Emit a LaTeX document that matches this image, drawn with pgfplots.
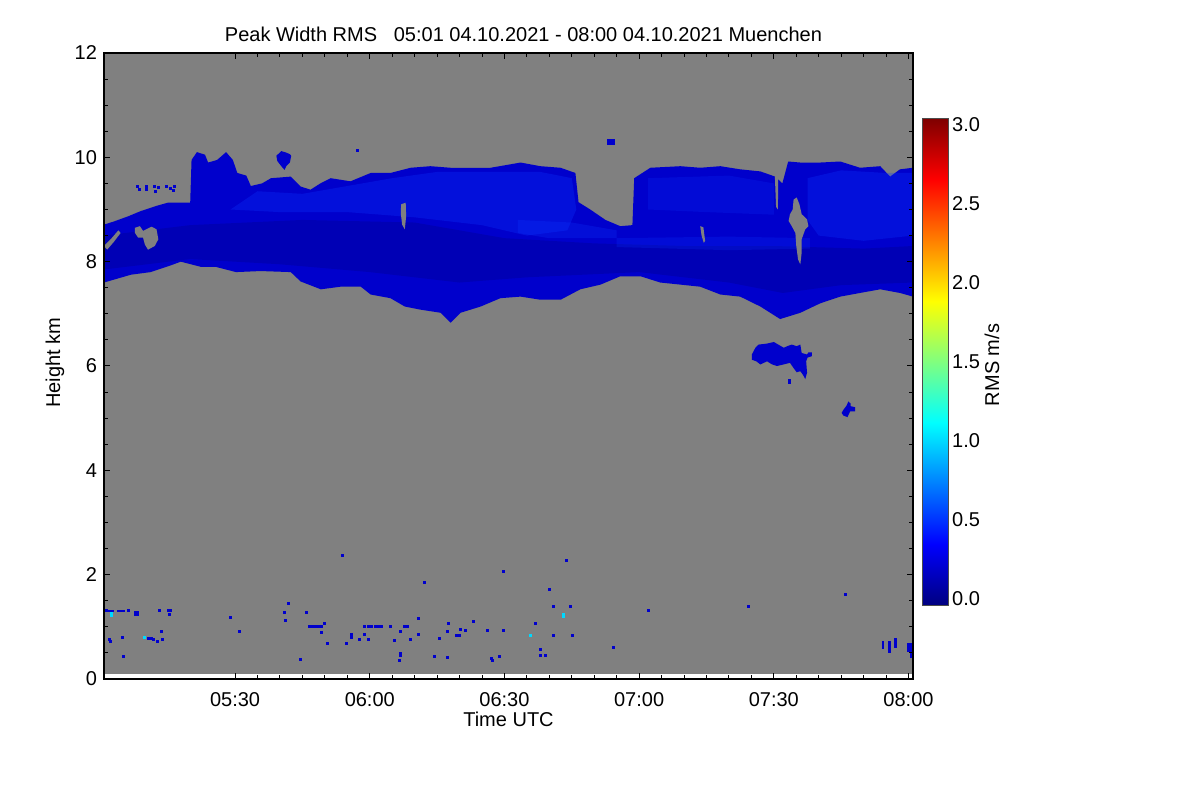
\documentclass[border=0pt]{standalone}
\usepackage{fontspec}
\setmainfont{Liberation Sans}
\usepackage{pgfplots}
\pgfplotsset{compat=1.18}
\usepgfplotslibrary{fillbetween}
\tikzset{fill between/on layer=main}
\definecolor{bg}{rgb}{0.5,0.5,0.5}
\definecolor{cbase}{rgb}{0,0,0.8}
\definecolor{ccore}{rgb}{0,0,0.71}
\definecolor{cbright}{rgb}{0.05,0.22,1}
\definecolor{cdot}{rgb}{0,0,0.8}
\definecolor{ccyan}{rgb}{0,0.85,1}
\begin{document}
\fontsize{10bp}{12bp}\selectfont
\begin{tikzpicture}
\path (0,0) rectangle (600bp,400bp);
\begin{axis}[
 at={(52bp,60.5bp)}, anchor=south west,
 scale only axis, width=404.5bp, height=313bp,
 xmin=300.8, xmax=481, ymin=0, ymax=12,
 xtick={330,360,390,420,450,480},
 xticklabels={05:30,06:00,06:30,07:00,07:30,08:00},
 minor x tick num=5,
 ytick={0,2,4,6,8,10,12}, minor y tick num=3,
 tick align=inside,
 major tick length=3bp, minor tick length=1.8bp,
 axis on top,
 axis line style={line width=0.6bp},
 every tick/.style={line width=0.5bp, black},
 /pgf/number format/assume math mode=true,
 title={Peak Width RMS\ \ \ 05:01 04.10.2021 - 08:00 04.10.2021 Muenchen},
 title style={at={(0.5185,1.0)}, anchor=base, inner sep=0pt},
 xlabel={Time UTC}, xlabel style={at={(0.5,-0.0751)}, anchor=base, inner sep=0pt},
 ylabel={Height km}, ylabel style={at={(-0.0606,0.505)}, anchor=center, inner sep=0pt},
 xticklabel style={yshift=-3.2bp},
 colorbar, colormap/jet, point meta min=-0.038, point meta max=3.038,
 colorbar style={
   at={(1.012,0.1182)}, anchor=south west,
   scale only axis, width=12.8bp, height=243bp,
   ytick={0,0.5,1,1.5,2,2.5,3},
   yticklabel style={/pgf/number format/.cd, fixed, fixed zerofill, precision=1, assume math mode=true, /tikz/.cd, xshift=-1.6bp},
   major tick length=0pt, minor tick length=0pt,
   ylabel={RMS m/s},
   ylabel style={at={(2.707,0.494)}, anchor=center, inner sep=0pt},
   axis line style={line width=0.5bp, black!70},
 },
]
% grey background (no data)
\addplot[fill=bg, draw=none] coordinates {(300.8,0.1) (481,0.1) (481,12) (300.8,12)} --cycle;

% main cloud band
\addplot[name path=lo, draw=none] coordinates {
(300.8,7.6) (306.8,7.75) (311.2,7.8) (315.7,7.93) (317.9,8.0) (322.4,7.9) (325.7,7.9) (330.2,7.8)
(335.7,7.82) (342.4,7.8) (344.6,7.62) (349.1,7.47) (353.5,7.52) (358.0,7.52) (360.2,7.37) (364.6,7.3)
(367.8,7.14) (371.3,7.08) (375.8,7.02) (378.0,6.83) (380.2,7.02) (384.7,7.14) (389.1,7.3) (393.6,7.33)
(398.0,7.27) (402.5,7.27) (406.9,7.47) (411.4,7.56) (415.8,7.72) (420.3,7.72) (424.7,7.6) (429.2,7.56)
(433.6,7.52) (438.1,7.37) (442.5,7.33) (447.0,7.14) (451.4,6.9) (455.9,7.02) (460.3,7.2) (464.8,7.33)
(469.2,7.4) (473.7,7.47) (478.1,7.4) (481,7.33)};
\addplot[name path=up, draw=none] coordinates {
(300.8,8.71) (303.0,8.77) (306.2,8.87) (309.0,8.97) (312.5,9.07) (315.0,9.13) (320.0,9.13) (320.3,9.95)
(321.5,10.1) (323.3,10.05) (324,9.9) (326,9.95) (328,10.1) (329.5,9.95) (330.5,9.7) (332.5,9.65)
(333.5,9.45) (336,9.5) (338,9.6) (342.4,9.63) (344.6,9.44) (346.8,9.38) (349,9.5) (351.3,9.6)
(355.7,9.54) (360.2,9.7) (364.6,9.7) (369.1,9.8) (373.5,9.83) (378,9.8) (382.4,9.8) (386.9,9.8)
(393.6,9.9) (398,9.83) (402.5,9.8) (405.8,9.7) (406.5,9.14) (409.1,9.0) (412.5,8.8) (415.8,8.68)
(418.5,8.7) (418.9,9.6) (422.5,9.8) (429.2,9.83) (433.6,9.8) (438.1,9.83) (442.5,9.77) (447,9.73)
(450.3,9.63) (451.9,9.5) (453.2,9.92) (455.9,9.9) (460.3,9.9) (464.8,9.92) (469.2,9.8) (473.7,9.83)
(475.9,9.63) (478.1,9.77) (481,9.8)};
\addplot[fill=cbase, draw=none] fill between[of=lo and up];

% darker core
\addplot[name path=clo, draw=none] coordinates {
(300.8,7.85) (320,8.05) (340,7.95) (360,7.8) (380,7.6) (395,7.7) (420,7.8) (440,7.6) (452,7.4) (465,7.55) (481,7.6)};
\addplot[name path=cup, draw=none] coordinates {
(300.8,8.5) (320,8.7) (345,8.8) (370,8.75) (390,8.45) (410,8.35) (430,8.3) (450,8.3) (470,8.25) (481,8.3)};
\addplot[fill=ccore, draw=none] fill between[of=clo and cup];

% brighter regions
\addplot[fill=cbright, fill opacity=0.3, draw=none] coordinates {
(329,9.0) (335,9.35) (345,9.3) (355,9.45) (365,9.6) (375,9.72) (390,9.72) (398,9.72) (405,9.6)
(406,9.0) (404,8.6) (395,8.5) (385,8.7) (370,8.85) (355,8.95) (340,8.95)} --cycle;
\addplot[fill=cbright, fill opacity=0.3, draw=none] coordinates {
(457.5,9.6) (465,9.75) (475,9.7) (481,9.7) (481,8.5) (470,8.4) (460,8.5) (457.5,8.8)} --cycle;
\addplot[fill=cbright, fill opacity=0.2, draw=none] coordinates {
(422,9.6) (440,9.65) (450,9.5) (450,8.9) (435,8.95) (422,9.0)} --cycle;
\addplot[fill=cbright, fill opacity=0.25, draw=none] coordinates {
(393,8.8) (405,8.75) (415,8.6) (415,8.45) (400,8.45) (393,8.55)} --cycle;
\addplot[fill=cbright, fill opacity=0.22, draw=none] coordinates {
(415,8.45) (440,8.48) (458,8.45) (458,8.25) (440,8.22) (415,8.28)} --cycle;

% gaps in the cloud
\addplot[fill=bg, draw=none] coordinates {
(300.8,8.3) (302.5,8.45) (304,8.6) (304.5,8.55) (303,8.38) (301.5,8.23)} --cycle;
\addplot[fill=bg, draw=none] coordinates {
(307.7,8.65) (308.8,8.68) (309.5,8.59) (311.4,8.67) (312.5,8.62) (312.9,8.43) (312.1,8.30)
(310.6,8.23) (309.9,8.33) (309.5,8.46) (308.4,8.46) (307.7,8.55)} --cycle;
\addplot[fill=bg, draw=none] coordinates {
(367.0,9.10) (368.0,9.13) (368.1,8.87) (367.8,8.62) (367.2,8.71) (366.9,8.94)} --cycle;
\addplot[fill=bg, draw=none] coordinates {
(433.6,8.68) (434.3,8.66) (434.7,8.4) (434.4,8.36) (433.9,8.5)} --cycle;
\addplot[fill=bg, draw=none] coordinates {
(454.4,9.19) (455.1,9.23) (455.7,9.10) (456.2,8.91) (457.4,8.81) (457.7,8.68) (457.0,8.62)
(456.2,8.43) (456.2,8.17) (455.9,7.95) (455.4,8.04) (455.0,8.30) (454.8,8.55) (454.0,8.68)
(453.3,8.78) (453.6,8.91) (454.2,9.00)} --cycle;
\addplot[fill=bg, draw=none] coordinates {
(450.2,9.7) (451.0,9.7) (450.9,9.0) (450.5,9.05)} --cycle;

% isolated cloud patches
\addplot[fill=cbase, draw=none] coordinates {
(339.2,10.03) (340.3,10.12) (341.4,10.09) (342.2,10.06) (342.5,10.03) (342.2,9.90) (341.4,9.83)
(341.0,9.76) (340.3,9.83) (339.4,9.93)} --cycle;
\addplot[fill=cbase, draw=none] coordinates {
(412.8,10.23) (414.7,10.23) (414.7,10.36) (412.8,10.36)} --cycle;
\addplot[fill=cbase, draw=none] coordinates {
(445.1,6.22) (445.9,6.35) (446.6,6.41) (448.5,6.43) (450.0,6.46) (451.0,6.41) (452.2,6.35) (453.3,6.39)
(454.0,6.41) (455.1,6.38) (455.9,6.41) (456.2,6.25) (457.4,6.22) (457.7,6.26) (458.5,6.26) (458.5,6.19)
(457.5,6.16) (457.2,6.09) (457.4,5.87) (457.0,5.75) (456.5,5.83) (455.9,5.90) (455.1,5.88) (454.4,5.96)
(453.6,6.06) (452.2,6.03) (450.7,6.0) (449.6,6.03) (448.5,6.09) (447.0,6.03) (446.1,6.09) (445.1,6.12)} --cycle;
\addplot[fill=cbase, draw=none] coordinates {
(465.5,5.16) (466.2,5.24) (466.6,5.32) (467.1,5.28) (467.1,5.23) (468.1,5.21) (468.1,5.13) (467.0,5.13)
(466.4,5.02) (465.5,5.05) (465.1,5.10)} --cycle;
% near-ground patches
\addplot[fill=cdot, draw=none] coordinates {(300.8,1.29) (303,1.29) (303,1.33) (300.8,1.33)} --cycle;
\addplot[fill=cdot, draw=none] coordinates {(303.8,1.29) (305.5,1.29) (305.5,1.33) (303.8,1.33)} --cycle;
\addplot[fill=cdot, draw=none] coordinates {(307.5,1.2) (308.6,1.2) (308.6,1.3) (307.5,1.3)} --cycle;
\addplot[fill=cdot, draw=none] coordinates {(474.2,0.58) (474.6,0.58) (474.6,0.73) (474.2,0.73)} --cycle;
\addplot[fill=cdot, draw=none] coordinates {(475.5,0.5) (476.2,0.5) (476.2,0.73) (475.5,0.73)} --cycle;
\addplot[fill=cdot, draw=none] coordinates {(476.8,0.6) (477.4,0.6) (477.4,0.79) (476.8,0.79)} --cycle;
\addplot[fill=cdot, draw=none] coordinates {(479.6,0.52) (480.7,0.52) (480.7,0.69) (479.6,0.69)} --cycle;
\addplot[fill=cdot, draw=none] coordinates {(480.4,0.4) (481,0.4) (481,0.52) (480.4,0.52)} --cycle;

% scattered single pixels
\addplot[only marks, mark=square*, mark size=0.5bp, color=cdot] coordinates {
(301.3,1.31) (306.2,1.31) (313.1,1.31) (315.2,1.31) (315.6,1.31) (315.3,1.24) (301.9,0.75) (302.3,0.72)
(304.9,0.8) (311.8,0.75) (312.6,0.72) (313.5,0.91) (313.8,0.75) (305.1,0.43) (310.7,0.78) (311.3,0.77)
(329,1.18) (330.9,0.92) (341.9,1.44) (340.9,1.28) (341.1,1.12) (345.8,1.28) (344.5,0.38)
(346.6,1.0) (347.2,1.0) (347.9,1.0) (348.6,1.0) (349.3,1.0)
(349.2,0.89) (350,1.07) (350.5,0.68) (354.9,0.68) (356,0.86) (356,0.8) (357.7,0.76) (358.7,0.86) (359.6,0.75)
(358.9,1.0) (359.6,1.0) (360.4,1.0) (361.2,1.0) (362,1.0) (362.6,1.0)
(364.6,1.0) (365.5,0.74) (366.9,0.92) (367.8,1.0) (368.4,1.0) (366.9,0.49) (366.9,0.45) (366.7,0.35)
(369.1,0.75) (370.9,1.16) (372.2,1.86) (370.9,0.86) (374.4,0.43) (375.4,0.78) (377.2,0.41) (377.4,0.91)
(377.6,1.07) (379.3,0.84) (379.7,0.84) (380,0.84) (380.2,0.96) (381.4,0.93) (383,1.11) (386.1,0.93)
(387.1,0.39) (387.3,0.36) (388.8,0.43) (389.7,2.06) (389.7,0.93) (397,1.07) (398.1,0.56) (397.9,0.46)
(399.2,0.46) (399.9,1.71) (400.8,0.84) (401,1.4) (403.9,2.28) (404.6,1.39) (405.2,0.84)
(354,2.36) (414.3,0.6) (422,1.32) (444.3,1.4) (465.9,1.63) (453.5,5.69) (453.5,5.73)
(308.3,9.45) (308.6,9.38) (310.2,9.45) (310.2,9.38) (312,9.45) (312.3,9.35) (313,9.42) (314.8,9.45)
(315.5,9.4) (316.5,9.45) (316.3,9.36) (357.2,10.13)};
\addplot[only marks, mark=square*, mark size=0.5bp, color=ccyan] coordinates {
(302.5,1.25) (302.5,1.22) (309.9,0.8) (395.7,0.84) (403.2,1.23) (403.2,1.20)};
\end{axis}
\end{tikzpicture}
\end{document}
